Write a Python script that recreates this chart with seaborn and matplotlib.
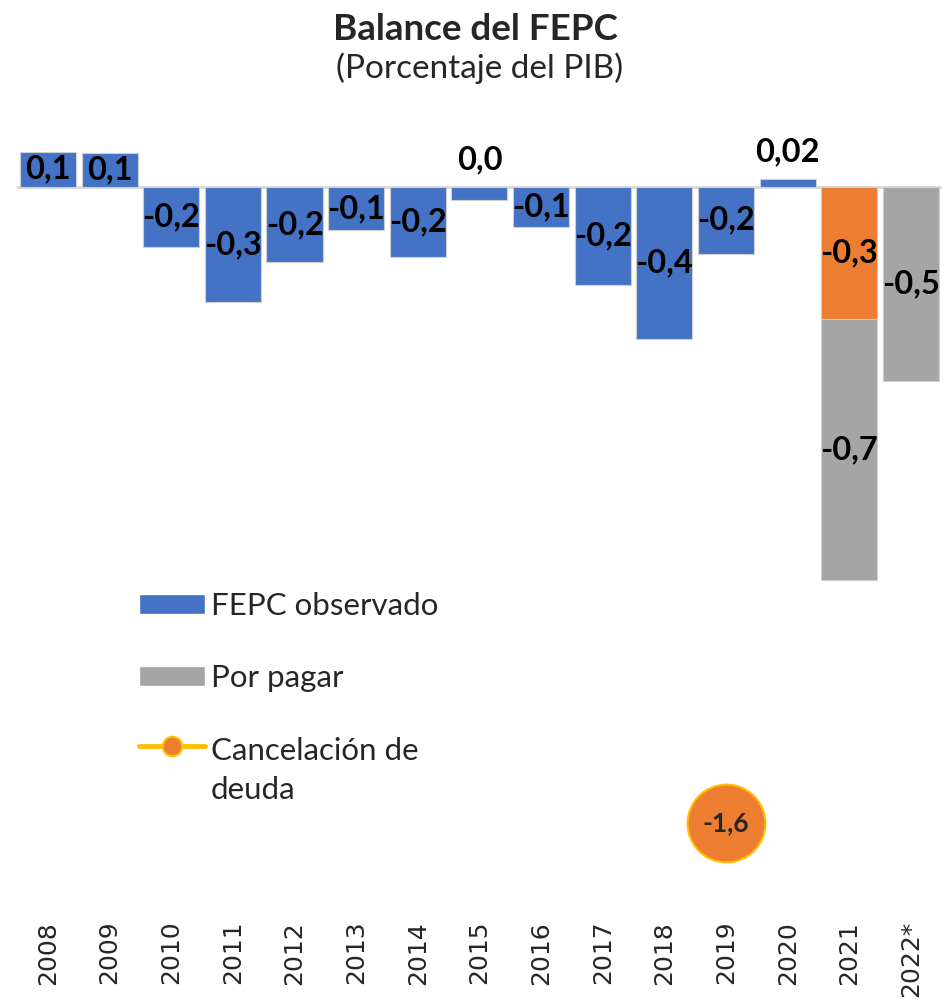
import numpy as np
import pandas as pd
import seaborn as sns
import matplotlib.pyplot as plt
from matplotlib.patches import Patch
from matplotlib.lines import Line2D
from matplotlib.legend_handler import HandlerLine2D

# Balance del FEPC, % del PIB
years = ["2008", "2009", "2010", "2011", "2012", "2013", "2014", "2015",
         "2016", "2017", "2018", "2019", "2020", "2021", "2022*"]
observado = [0.089, 0.085, -0.153, -0.293, -0.191, -0.110, -0.177, -0.034,
             -0.103, -0.249, -0.386, -0.170, 0.019, -0.335, np.nan]
por_pagar = [0, 0, 0, 0, 0, 0, 0, 0, 0, 0, 0, 0, 0, -0.660, -0.491]
cancelacion = [np.nan] * 11 + [-1.61, np.nan, np.nan, np.nan]

obs_labels = ["0,1", "0,1", "-0,2", "-0,3", "-0,2", "-0,1", "-0,2", "0,0",
              "-0,1", "-0,2", "-0,4", "-0,2", "0,02", "-0,3", ""]
pagar_labels = [""] * 13 + ["-0,7", "-0,5"]
cancel_labels = [""] * 11 + ["-1,6", "", "", ""]

BLUE = "#4472C4"
ORANGE = "#ED7D31"
GRAY = "#A5A5A5"
YELLOW = "#FFC000"
EDGE = "#D0D0D0"
BAR_W = 0.91

sns.set_theme(style="white")
plt.rcParams["font.family"] = ["Lato", "DejaVu Sans"]

df = pd.DataFrame({"year": years, "observado": observado, "por_pagar": por_pagar})
df["total"] = df["observado"].fillna(0) + df["por_pagar"]

palette = {y: BLUE for y in years}
palette["2021"] = ORANGE

fig = plt.figure(figsize=(9.48, 10.07), dpi=100)
ax = fig.add_axes([0.0181, 0.1007, 0.9753, 0.7688])

ax.axhline(0, color="#D9D9D9", lw=2, zorder=0.5)

# gray "por pagar" drawn as full stack, observed bars on top of it
sns.barplot(data=df[df["por_pagar"] < 0], x="year", y="total", order=years,
            color=GRAY, saturation=1, width=BAR_W, edgecolor=EDGE, linewidth=0.8,
            errorbar=None, ax=ax, zorder=2)
sns.barplot(data=df[df["observado"].notna()], x="year", y="observado", order=years,
            hue="year", palette=palette, saturation=1, legend=False, width=BAR_W,
            edgecolor=EDGE, linewidth=0.8, errorbar=None, ax=ax, zorder=3)

for i, v in enumerate(cancelacion):
    if np.isnan(v):
        continue
    ax.plot(i, v, "o", ms=56, mfc=ORANGE, mec=YELLOW, mew=1.5, zorder=5)
    ax.text(i, v, cancel_labels[i], ha="center", va="center", fontsize=19,
            fontweight="bold", zorder=6)

lab_kw = dict(ha="center", fontsize=23.5, fontweight="bold", color="black", zorder=6)
for i, (v, lab) in enumerate(zip(observado, obs_labels)):
    if not lab:
        continue
    if abs(v) < 0.05:
        ax.annotate(lab, (i, max(v, 0)), xytext=(0, 9), textcoords="offset points",
                    va="bottom", **lab_kw)
    else:
        ax.text(i, v / 2, lab, va="center", **lab_kw)

base = df["observado"].fillna(0).tolist()
for i, (p, lab) in enumerate(zip(por_pagar, pagar_labels)):
    if lab:
        ax.text(i, base[i] + p / 2, lab, va="center", **lab_kw)

ax.set_xlim(-0.5, len(years) - 0.5)
ax.set_ylim(-1.82, 0.14)
ax.set_xticks(range(len(years)))
ax.set_xticklabels(years, rotation=90, fontsize=18, family="DejaVu Sans")
ax.tick_params(axis="x", length=0, pad=11)
ax.set_yticks([])
ax.set_xlabel("")
ax.set_ylabel("")
sns.despine(ax=ax, left=True, bottom=True)

fig.text(0.501, 1 - 40 / 1007, "Balance del FEPC", ha="center", va="baseline",
         fontsize=26.5, fontweight="bold")
fig.text(0.506, 1 - 78 / 1007, "(Porcentaje del PIB)", ha="center", va="baseline",
         fontsize=24)


class FirstLineHandler(HandlerLine2D):
    # keep the handle level with the first line of a two-line label
    def create_artists(self, legend, orig_handle, xdescent, ydescent, width,
                       height, fontsize, trans):
        artists = super().create_artists(legend, orig_handle, xdescent, ydescent,
                                         width, height, fontsize, trans)
        for a in artists:
            a.set_ydata(np.asarray(a.get_ydata()) + 0.82 * fontsize)
        return artists


deuda = Line2D([], [], color=YELLOW, lw=3.5, marker="o", ms=14, mfc=ORANGE,
               mec=YELLOW, mew=1.5, label="Cancelación de\ndeuda")
handles = [Patch(fc=BLUE, label="FEPC observado"),
           Patch(fc=GRAY, label="Por pagar"),
           deuda]
leg = fig.legend(handles=handles, handler_map={deuda: FirstLineHandler()},
                 loc="upper left", bbox_to_anchor=(139 / 948, 1 - 592 / 1007),
                 frameon=False, fontsize=22.5, handlelength=2.1, handleheight=0.6,
                 handletextpad=0.2, labelspacing=1.42, borderpad=0, borderaxespad=0)
for t in leg.get_texts():
    t.set_linespacing(1.5)

fig.savefig("out.png", dpi=100)
